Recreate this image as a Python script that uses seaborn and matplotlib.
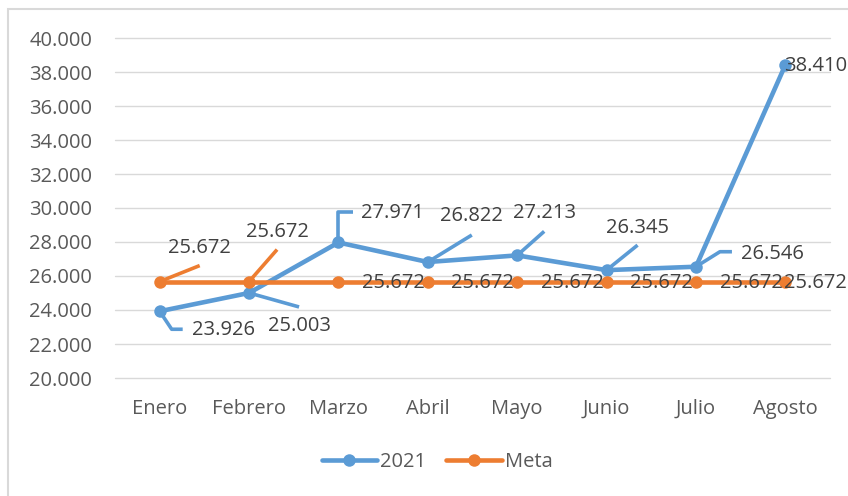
import matplotlib
matplotlib.use("Agg")
import matplotlib.pyplot as plt
import seaborn as sns
import pandas as pd
import numpy as np
from matplotlib.lines import Line2D
from matplotlib.transforms import IdentityTransform
from matplotlib.patches import Rectangle
from matplotlib.ticker import FuncFormatter, MultipleLocator

# ---- data ----
meses = ["Enero", "Febrero", "Marzo", "Abril", "Mayo", "Junio", "Julio", "Agosto"]
serie_2021 = [23926, 25003, 27971, 26822, 27213, 26345, 26546, 38410]
serie_meta = [25672, 25672, 25672, 25672, 25672, 25672, 25672, 25672]
nombres = ["2021", "Meta"]

# ---- style ----
BLUE = "#5B9BD5"
ORANGE = "#ED7D31"
GRID = "#D9D9D9"
TICK_C = "#595959"
LABEL_C = "#404040"
FS = 14.5

sns.set_theme(style="white")
plt.rcParams["font.family"] = ["Open Sans", "DejaVu Sans"]

W, H = 848, 496
fig = plt.figure(figsize=(W / 100, H / 100), dpi=100)
ax = fig.add_axes([115 / W, 1 - 378 / H, 715 / W, 340 / H])

df = pd.DataFrame({
    "Mes": meses * 2,
    "Valor": serie_2021 + serie_meta,
    "Serie": [nombres[0]] * len(meses) + [nombres[1]] * len(meses),
})
sns.lineplot(data=df, x="Mes", y="Valor", hue="Serie", hue_order=nombres,
             palette={nombres[0]: BLUE, nombres[1]: ORANGE},
             marker="o", markersize=9, markeredgewidth=0, linewidth=3.3,
             sort=False, legend=False, ax=ax)

ax.set_xlim(-0.5, len(meses) - 0.5)
ax.set_ylim(20000, 40000)
ax.yaxis.set_major_locator(MultipleLocator(2000))
ax.yaxis.set_major_formatter(FuncFormatter(lambda v, p: f"{v:,.0f}".replace(",", ".")))
ax.set_xlabel("")
ax.set_ylabel("")
for s in ax.spines.values():
    s.set_visible(False)
ax.grid(axis="y", color=GRID, lw=1.0)
ax.grid(axis="x", visible=False)
for gl in ax.get_ygridlines():
    gl.set_clip_on(False)
ax.set_axisbelow(True)
ax.tick_params(axis="both", length=0, labelsize=FS, labelcolor=TICK_C)
ax.tick_params(axis="y", pad=16.5)
ax.tick_params(axis="x", pad=15)

fig.canvas.draw()

# ---- data labels with leader lines (offsets in pixels, y up) ----
lab_2021 = [(64, -19), (50, -33), (54, 29), (44, 46), (27, 42), (31, 42), (76, 13), (30, -1)]
lead_2021 = [[(0, 0), (12, -18), (23, -18)], [(0, 0), (50, -14)], [(0, 0), (0, 30), (15, 30)],
             [(0, 0), (44, 27)], [(0, 0), (27, 24)], [(0, 0), (31, 25)],
             [(0, 0), (24, 15), (36, 15)], None]
lab_meta = [(40, 34), (28, 50), (55, -1), (55, -1), (55, -1), (55, -1), (55, -1), (30, -1)]
lead_meta = [[(0, 0), (40, 16)], [(0, 0), (28, 32)], None, None, None, None, None, None]


def fmt(v):
    return f"{v:,.0f}".replace(",", ".")


for vals, labs, leads, col in [(serie_2021, lab_2021, lead_2021, BLUE),
                               (serie_meta, lab_meta, lead_meta, ORANGE)]:
    for i, v in enumerate(vals):
        px, py = ax.transData.transform((i, v))
        if leads[i] is not None:
            xs = [px + dx for dx, dy in leads[i]]
            ys = [py + dy for dx, dy in leads[i]]
            ax.add_line(Line2D(xs, ys, transform=IdentityTransform(), color=col,
                               lw=2.6, solid_capstyle="butt", zorder=4, clip_on=False))
        ax.annotate(fmt(v), xy=(i, v), xytext=labs[i], textcoords="offset pixels",
                    ha="center", va="center", fontsize=FS, color=LABEL_C,
                    zorder=6, annotation_clip=False)

# ---- legend ----
handles = [Line2D([], [], color=BLUE, lw=3.3, marker="o", markersize=9, markeredgewidth=0),
           Line2D([], [], color=ORANGE, lw=3.3, marker="o", markersize=9, markeredgewidth=0)]
leg = fig.legend(handles, nombres, loc="center", bbox_to_anchor=(437 / W, 1 - 462 / H),
                 ncol=2, frameon=False, fontsize=FS, handlelength=2.75,
                 handletextpad=0.15, columnspacing=1.0, labelcolor=TICK_C)

# ---- chart frame ----
fig.patches.append(Rectangle((8 / W, -0.2), 1.5, 1.2 - 9 / H, transform=fig.transFigure,
                             fill=False, edgecolor=GRID, lw=1.5))

fig.savefig("out.png", dpi=100)
